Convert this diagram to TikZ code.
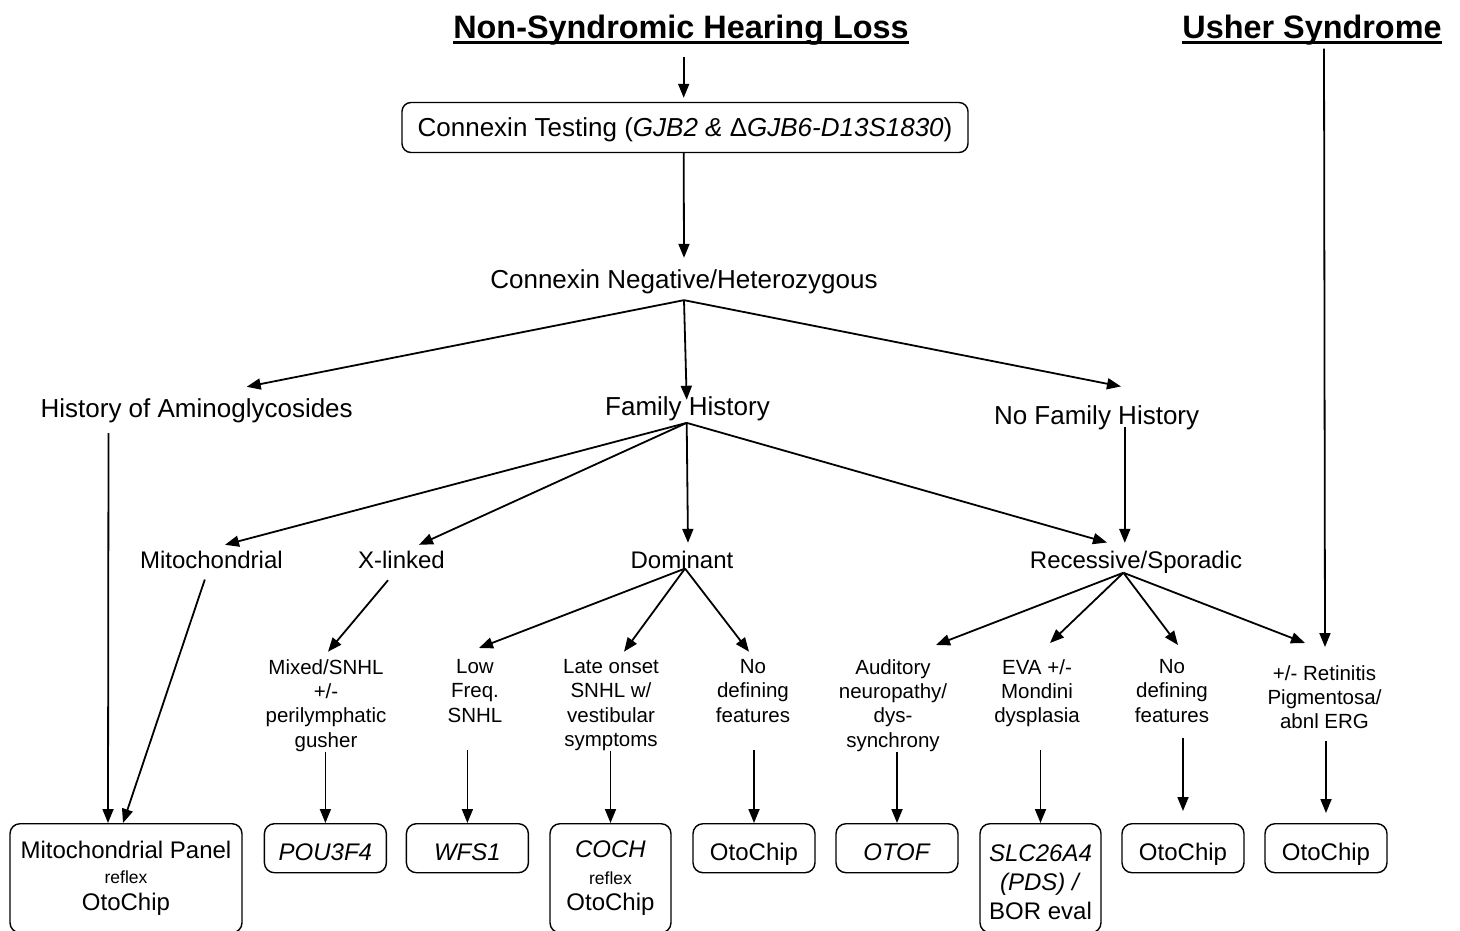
\documentclass[tikz,border=0pt]{standalone}
\usepackage{fontspec}
\setmainfont{Liberation Sans}
\usetikzlibrary{arrows.meta}
\begin{document}
\begin{tikzpicture}[x=1pt,y=-1pt,
  arr/.style={line width=1.8pt,-{Triangle[length=14pt,width=11pt]}},
  ttl/.style={font=\fontsize{32.4}{36}\selectfont\bfseries, inner sep=0pt, anchor=base},
  lblA/.style={font=\fontsize{26}{30}\selectfont, inner sep=0pt, text height=18.72pt, text depth=5.46pt, anchor=base},
  lblB/.style={font=\fontsize{24}{28}\selectfont, inner sep=0pt, text height=17.28pt, text depth=5.04pt, anchor=base},
  sm/.style={font=\fontsize{20.5}{24.2}\selectfont, inner sep=0pt, align=center, anchor=north},
  box/.style={draw, line width=1.4pt, rounded corners=10pt, inner sep=0pt, minimum width=122pt, minimum height=49pt, anchor=north, font=\fontsize{24}{26}\selectfont, align=center},
  sbox/.style={box, text height=25.2pt, text depth=0pt},
  tall/.style={box, minimum height=109pt}
]
\fill[white] (0,0) rectangle (1460,930);
\useasboundingbox (0,0) rectangle (1460,930);

% titles
\node[ttl] (nshl) at (681,38.6) {Non-Syndromic Hearing Loss};
\node[ttl] (usher) at (1312,38.6) {Usher Syndrome};
\draw[line width=2.4pt] ([yshift=-4pt]nshl.base west) -- ([yshift=-4pt]nshl.base east);
\draw[line width=2.4pt] ([yshift=-4pt]usher.base west) -- ([yshift=-4pt]usher.base east);

% connexin testing
\node[draw, line width=1.4pt, rounded corners=9pt, minimum width=566pt, minimum height=50pt, inner sep=0pt, text height=20pt, text depth=3pt, font=\fontsize{26}{30}\selectfont] (ct) at (685,127.5) {Connexin Testing (\textit{GJB2 \& }Δ\textit{GJB6-D13S1830})};

% labels
\node[lblA] (cn) at (684,288.3) {Connexin Negative/Heterozygous};
\node[lblA] (hoa) at (196.7,417.3) {History of Aminoglycosides};
\node[lblA] (fh) at (687.5,415.3) {Family History};
\node[lblA] (nfh) at (1096.6,424.3) {No Family History};

\node[lblB] (mito) at (211.4,568.6) {Mitochondrial};
\node[lblB] (xl) at (401.5,568.6) {X-linked};
\node[lblB] (dom) at (682,568.6) {Dominant};
\node[lblB] (rec) at (1136,568.6) {Recessive/Sporadic};

\node[sm] (mixed) at (326,659.4) {Mixed/SNHL\\+/-\\perilymphatic\\gusher};
\node[sm] (low) at (475,659.4) {Low\\Freq.\\SNHL};
\node[sm] (late) at (611,659.4) {Late onset\\SNHL w/\\vestibular\\symptoms};
\node[sm] (ndD) at (753,659.4) {No\\defining\\features};
\node[sm] (aud) at (893,659.4) {Auditory\\neuropathy/\\dys-\\synchrony};
\node[sm] (eva) at (1037,659.4) {EVA +/-\\Mondini\\dysplasia};
\node[sm] (ndR) at (1172,659.4) {No\\defining\\features};
\node[sm] (ret) at (1324.5,665.4) {+/- Retinitis\\Pigmentosa/\\abnl ERG};

% bottom boxes
\node[tall, minimum width=232pt] (mp) at (126,823) {Mitochondrial Panel\\[-1pt]{\fontsize{17.5}{20}\selectfont reflex}\\[1pt]OtoChip};
\node[sbox] (pou) at (325.4,823) {\textit{POU3F4}};
\node[sbox] (wfs) at (467.4,823) {\textit{WFS1}};
\node[tall, minimum width=121pt] (coch) at (610.5,823) {\textit{COCH}\\[1pt]{\fontsize{17.5}{20}\selectfont reflex}\\[0pt]OtoChip};
\node[sbox] (oto1) at (754,823) {OtoChip};
\node[sbox] (otof) at (897,823) {\textit{OTOF}};
\node[tall, minimum width=121pt] (slc) at (1040.5,823) {\rule{0pt}{24pt}\textit{SLC26A4}\\[3pt]\textit{(PDS) /}\\[3pt]BOR eval};
\node[sbox] (oto2) at (1183,823) {OtoChip};
\node[sbox] (oto3) at (1326,823) {OtoChip};

% arrows top
\draw[arr] ([xshift=2.7pt,yshift=-18pt]nshl.base) -- ([xshift=-1.3pt,yshift=4pt]ct.north);
\draw[arr] ([xshift=-1.3pt]ct.south) -- ([yshift=11.6pt]cn.north);

% fan from cn
\draw[arr] ([yshift=-6.2pt]cn.south) -- ([xshift=50pt,yshift=11.6pt]hoa.north);
\draw[arr] ([yshift=-6.2pt]cn.south) -- ([xshift=-0.8pt,yshift=-3.4pt]fh.north);
\draw[arr] ([yshift=-6.2pt]cn.south) -- ([xshift=24.4pt,yshift=18.9pt]nfh.north);

% hoa -> mp
\draw[arr] ([xshift=-88.2pt,yshift=-10.2pt]hoa.south) -- ([xshift=-18pt]mp.north);

% fan from fh
\draw[arr] ([xshift=-0.8pt,yshift=-1.9pt]fh.south) -- ([xshift=13.6pt,yshift=6.3pt]mito.north);
\draw[arr] ([xshift=-0.8pt,yshift=-1.9pt]fh.south) -- ([xshift=17.5pt,yshift=6.3pt]xl.north);
\draw[arr] ([xshift=-0.8pt,yshift=-1.9pt]fh.south) -- ([xshift=6pt,yshift=8.3pt]dom.north);
\draw[arr] ([xshift=-0.8pt,yshift=-1.9pt]fh.south) -- ([xshift=-29pt,yshift=8.6pt]rec.north);

% nfh -> rec
\draw[arr] ([xshift=28.2pt,yshift=2.8pt]nfh.south) -- ([xshift=-11.2pt,yshift=8.3pt]rec.north);

% mito -> mp, xl -> mixed
\draw[arr] ([xshift=-6.6pt,yshift=-5.7pt]mito.south) -- ([xshift=-3pt]mp.north);
\draw[arr] ([xshift=-13.5pt,yshift=-6.4pt]xl.south) -- ([xshift=2pt,yshift=7.7pt]mixed.north);

% fan from dom
\draw[arr] ([xshift=3pt,yshift=5.3pt]dom.south) -- ([xshift=4pt,yshift=11.4pt]low.north);
\draw[arr] ([xshift=3pt,yshift=5.3pt]dom.south) -- ([xshift=13pt,yshift=7.7pt]late.north);
\draw[arr] ([xshift=3pt,yshift=5.3pt]dom.south) -- ([xshift=-4pt,yshift=7.7pt]ndD.north);

% fan from rec
\draw[arr] ([xshift=-12.6pt,yshift=1.1pt]rec.south) -- ([xshift=43pt,yshift=14.4pt]aud.north);
\draw[arr] ([xshift=-12.6pt,yshift=1.1pt]rec.south) -- ([xshift=13pt,yshift=16.4pt]eva.north);
\draw[arr] ([xshift=-12.6pt,yshift=1.1pt]rec.south) -- ([xshift=6pt,yshift=14.4pt]ndR.north);
\draw[arr] ([xshift=-12.6pt,yshift=1.1pt]rec.south) -- ([xshift=-19.5pt,yshift=22.4pt]ret.north);

% usher -> ret
\draw[arr] ([xshift=12pt,yshift=-3pt]usher.south) -- ([xshift=0.5pt,yshift=18.4pt]ret.north);

% small texts -> boxes
\draw[arr] (mixed.south -| pou.north) -- (pou.north);
\draw[arr, shorten <=27.5pt] (low.south -| wfs.north) -- (wfs.north);
\draw[arr] (late.south -| coch.north) -- (coch.north);
\draw[arr, shorten <=27.5pt] (ndD.south -| oto1.north) -- (oto1.north);
\draw[arr] (aud.south -| otof.north) -- (otof.north);
\draw[arr, shorten <=23pt] (eva.south -| slc.north) -- (slc.north);
\draw[arr, shorten <=15pt, shorten >=12pt] (ndR.south -| oto2.north) -- (oto2.north);
\draw[arr, shorten <=11.3pt, shorten >=10pt] (ret.south -| oto3.north) -- (oto3.north);
\end{tikzpicture}
\end{document}
